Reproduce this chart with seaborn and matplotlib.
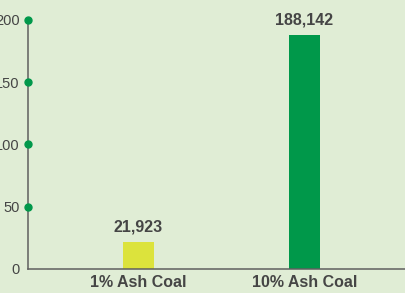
import numpy as np
import pandas as pd
import matplotlib.pyplot as plt
import seaborn as sns

categories = ['1% Ash Coal', '10% Ash Coal']
values = [21923, 188142]
bar_colors = ['#dce33c', '#00984a']
y_ticks = [0, 50, 100, 150, 200]

BG = '#e0edd5'
TEXT = '#454545'

df = pd.DataFrame({'cat': categories, 'val': np.array(values) / 1000})

sns.set_style('white')
plt.rcParams['font.family'] = ['Liberation Sans', 'DejaVu Sans']

fig = plt.figure(figsize=(4.06, 2.93), dpi=100, facecolor=BG)
ax = fig.add_axes([0.069, 0.082, 0.98, 0.85])
ax.set_facecolor(BG)

sns.barplot(data=df, x='cat', y='val', hue='cat', palette=bar_colors,
            width=0.187, legend=False, ax=ax, saturation=1, linewidth=0)

ax.set_xlim(-0.666, 1.732)
ax.set_ylim(0, 200)
ax.set_yticks(y_ticks)
ax.set_yticklabels([str(t) for t in y_ticks], color=TEXT, fontsize=10.5)
ax.tick_params(axis='y', length=0, pad=6)
ax.tick_params(axis='x', length=0, pad=4)
for lbl in ax.get_xticklabels():
    lbl.set_fontweight('bold')
    lbl.set_color(TEXT)
    lbl.set_fontsize(11.5)
ax.set_xlabel('')
ax.set_ylabel('')

for s in ['top', 'right']:
    ax.spines[s].set_visible(False)
for s in ['left', 'bottom']:
    ax.spines[s].set_color('#5f5f5f')
    ax.spines[s].set_linewidth(1.1)

# green dots on the y axis ticks
xl = ax.get_xlim()[0]
dots = [t for t in y_ticks if t > 0]
ax.plot([xl] * len(dots), dots, 'o', color='#00984a', markersize=5,
        clip_on=False, zorder=5)

for i, v in enumerate(values):
    ax.text(i, v / 1000 + 5.5, f'{v:,}', ha='center', va='bottom',
            fontsize=11.5, fontweight='bold', color=TEXT)

fig.savefig('out.png', dpi=100, facecolor=BG)
